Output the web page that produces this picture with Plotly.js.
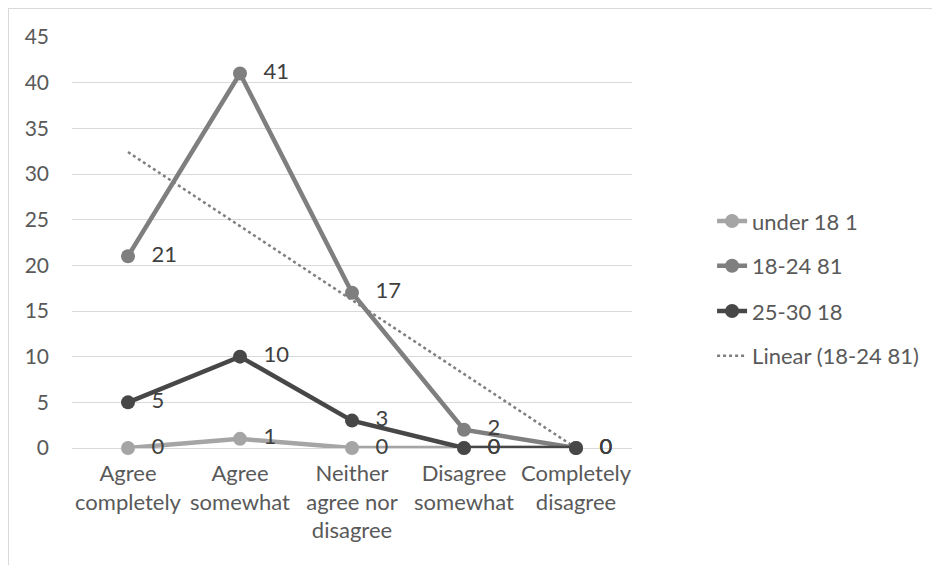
<!DOCTYPE html>
<html>
<head>
<meta charset="utf-8">
<script src="https://cdn.plot.ly/plotly-3.0.1.min.js"></script>
<style>
  html, body { margin: 0; padding: 0; background: #fff; }
  #wrap { position: relative; width: 932px; height: 565px; overflow: hidden; }
  #chart { position: absolute; left: 0; top: 0; width: 932px; height: 565px; }
  #frame { position: absolute; left: 8px; top: 8px; width: 1000px; height: 600px;
           border-left: 1px solid #d9d9d9; border-top: 1px solid #d9d9d9; pointer-events: none; }
</style>
</head>
<body>
<div id="wrap">
  <div id="chart"></div>
  <div id="frame"></div>
</div>
<script>
const categories = ["Agree<br>completely", "Agree<br>somewhat", "Neither<br>agree nor<br>disagree", "Disagree<br>somewhat", "Completely<br>disagree"];
const under18 = [0, 1, 0, 0, 0];
const age18to24 = [21, 41, 17, 2, 0];
const age25to30 = [5, 10, 3, 0, 0];
const seriesNames = ["under 18 1", "18-24 81", "25-30 18", "Linear (18-24 81)"];
const yTicks = [0, 5, 10, 15, 20, 25, 30, 35, 40, 45];

// Linear trendline (least squares) of the 18-24 series
function linearFit(vals) {
  const n = vals.length;
  const xs = vals.map((_, i) => i + 1);
  const mx = xs.reduce((a, b) => a + b, 0) / n;
  const my = vals.reduce((a, b) => a + b, 0) / n;
  let sxy = 0, sxx = 0;
  for (let i = 0; i < n; i++) { sxy += (xs[i] - mx) * (vals[i] - my); sxx += (xs[i] - mx) ** 2; }
  const b = sxy / sxx, a = my - b * mx;
  return xs.map(x => a + b * x);
}
const trend = linearFit(age18to24);

const FONT = "Lato, Calibri, 'Open Sans', sans-serif";
const labelFont = { family: FONT, size: 22, color: "#404040" };

function lineTrace(y, name, color, legendId) {
  return {
    x: categories, y: y, name: name, type: "scatter",
    mode: "lines+markers",
    line: { color: color, width: 4.5 },
    marker: { color: color, size: 14 },
    cliponaxis: false, hoverinfo: "skip", legend: legendId
  };
}
function labelTrace(y) {
  return {
    x: categories, y: y, type: "scatter", mode: "markers+text", showlegend: false,
    text: y.map(String), textposition: "middle right", textfont: labelFont,
    marker: { color: "rgba(0,0,0,0)", size: 36 }, cliponaxis: false, hoverinfo: "skip"
  };
}

const traces = [
  lineTrace(under18, seriesNames[0], "#a5a5a5", "legend"),
  {
    x: categories, y: trend, name: seriesNames[3], type: "scatter", mode: "lines",
    line: { color: "#7f7f7f", width: 2.5, dash: "dot" }, hoverinfo: "skip", legend: "legend4"
  },
  lineTrace(age18to24, seriesNames[1], "#7f7f7f", "legend2"),
  lineTrace(age25to30, seriesNames[2], "#474747", "legend3"),
  labelTrace(under18),
  labelTrace(age18to24),
  labelTrace(age25to30)
];

function leg(y) {
  return { x: 1.143, xanchor: "left", y: y, yanchor: "middle", bgcolor: "rgba(0,0,0,0)",
           font: { family: FONT, size: 22, color: "#595959" } };
}

const layout = {
  width: 932, height: 565,
  margin: { l: 72, r: 300, t: 37, b: 117, autoexpand: false },
  paper_bgcolor: "#ffffff", plot_bgcolor: "#ffffff",
  showlegend: true,
  legend: leg(0.552), legend2: leg(0.443), legend3: leg(0.333), legend4: leg(0.224),
  xaxis: {
    type: "category", range: [-0.5, 4.5], showgrid: false, zeroline: false,
    showline: false, ticks: "", ticklabelstandoff: 10, automargin: false,
    tickfont: { family: FONT, size: 22, color: "#595959" }, fixedrange: true
  },
  yaxis: {
    range: [0, 45], tickvals: yTicks, ticktext: yTicks.map(String),
    showgrid: true, gridcolor: "#d9d9d9", gridwidth: 1,
    zeroline: true, zerolinecolor: "#d9d9d9", zerolinewidth: 1,
    showline: false, ticks: "", ticklabelstandoff: 22, automargin: false,
    tickfont: { family: FONT, size: 21, color: "#595959" }, fixedrange: true
  },
  hovermode: false
};

Plotly.newPlot("chart", traces, layout, { displayModeBar: false, staticPlot: true });
</script>
</body>
</html>
